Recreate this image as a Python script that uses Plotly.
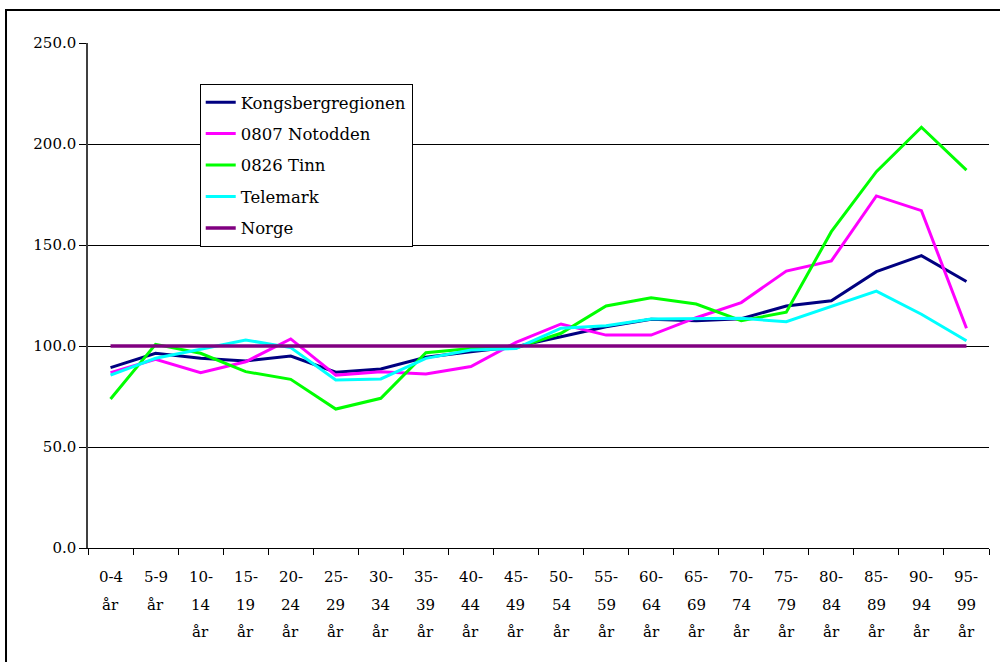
import plotly.graph_objects as go

categories = ["0-4|år", "5-9|år", "10-|14|år", "15-|19|år", "20-|24|år", "25-|29|år",
              "30-|34|år", "35-|39|år", "40-|44|år", "45-|49|år", "50-|54|år", "55-|59|år",
              "60-|64|år", "65-|69|år", "70-|74|år", "75-|79|år", "80-|84|år", "85-|89|år",
              "90-|94|år", "95-|99|år"]

kongsberg = [89.3, 96.4, 93.9, 92.6, 95.0, 87.0, 88.6, 94.4, 97.2, 99.7,
             104.6, 109.5, 113.2, 112.5, 113.5, 119.8, 122.4, 136.8, 144.7, 131.9]
notodden = [86.8, 93.4, 86.8, 92.2, 103.5, 85.6, 87.3, 86.1, 89.8, 101.8,
            110.9, 105.4, 105.4, 114.0, 121.5, 137.1, 142.1, 174.3, 167.0, 108.8]
tinn = [73.8, 100.8, 96.4, 87.3, 83.5, 68.8, 74.1, 96.7, 98.8, 99.0,
        106.3, 119.8, 123.9, 120.8, 112.5, 116.7, 156.6, 186.3, 208.3, 187.1]
telemark = [85.6, 93.9, 98.4, 103.0, 99.2, 83.2, 83.7, 93.9, 98.0, 98.8,
            108.8, 110.0, 113.4, 113.4, 113.7, 112.0, 119.5, 127.2, 115.7, 102.6]
norge = [100.0] * 20

series = [
    ("Kongsbergregionen", kongsberg, "#000080"),
    ("0807 Notodden", notodden, "#FF00FF"),
    ("0826 Tinn", tinn, "#00FF00"),
    ("Telemark", telemark, "#00FFFF"),
    ("Norge", norge, "#800080"),
]

FONT = "DejaVu Serif"
fig = go.Figure()
for i, (name, vals, col) in enumerate(series):
    fig.add_trace(go.Scatter(
        x=categories, y=vals, mode="lines", name=name,
        line=dict(color=col, width=3.5 if name == "Norge" else 3),
        legendgroup=f"g{i}",
    ))

# multi-line category labels
row_y = [-0.058, -0.112, -0.167]
for c in categories:
    for k, part in enumerate(c.split("|")):
        fig.add_annotation(x=c, y=row_y[k], xref="x", yref="paper",
                           text=part, showarrow=False, yanchor="middle",
                           font=dict(family=FONT, size=15, color="black"))

fig.update_layout(
    width=1000, height=662,
    margin=dict(l=88, r=11, t=43, b=114),
    paper_bgcolor="white", plot_bgcolor="white",
    font=dict(family=FONT, size=15, color="black"),
    showlegend=True,
    legend=dict(x=0.124, y=0.919, xanchor="left", yanchor="top",
                bordercolor="black", borderwidth=1, bgcolor="white",
                font=dict(family=FONT, size=16.5, color="black"),
                tracegroupgap=7, itemwidth=30),
    xaxis=dict(type="category", range=[-0.5, 19.5], showgrid=False,
               showticklabels=False, ticks="outside", ticklen=6,
               tickson="boundaries", tickcolor="black",
               showline=True, linecolor="black", linewidth=1),
    yaxis=dict(range=[0, 250], tick0=0, dtick=50, tickformat=".1f",
               showgrid=True, gridcolor="black", gridwidth=1,
               ticks="outside", ticklen=7, tickcolor="black",
               showline=True, linecolor="#404040", linewidth=1.5,
               zeroline=False),
    shapes=[dict(type="rect", xref="paper", yref="paper",
                 x0=-0.091, x1=1.2, y0=-0.4, y1=1.0653,
                 line=dict(color="black", width=2), layer="below")],
)

fig.write_html("out.html", config={"displayModeBar": False},
               post_script="document.body.style.margin='0';document.body.style.padding='0';")
